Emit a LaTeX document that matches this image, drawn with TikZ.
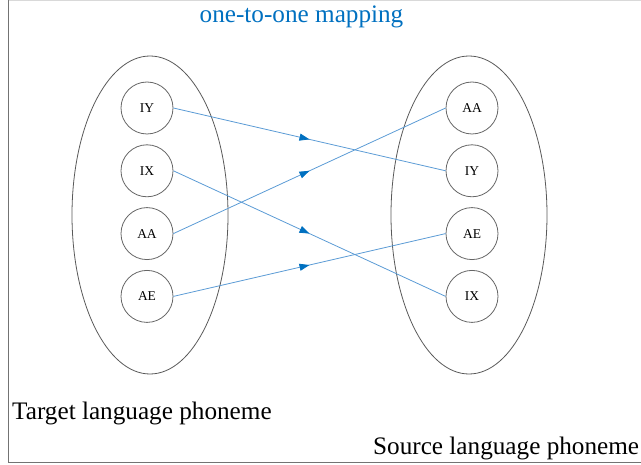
\documentclass[tikz,border=0pt]{standalone}
\usepackage{fontspec}
\setmainfont{Liberation Serif}
\newfontfamily\timesfont{Liberation Serif}
\usetikzlibrary{chains,positioning,shapes.geometric,arrows.meta,decorations.markings}
\definecolor{lineblue}{RGB}{91,155,213}
\definecolor{tipblue}{RGB}{0,112,192}
\definecolor{titleblue}{RGB}{0,112,192}

\begin{document}
\begin{tikzpicture}[
x=1pt,y=-1pt,
phon/.style={
  draw=black!60,
  circle,
  line width=0.8pt,
  minimum size=52pt,
  inner sep=0pt,
  font=\timesfont\fontsize{13.5}{15}\selectfont
},
group/.style={
  draw=black!65,
  ellipse,
  line width=0.8pt,
  minimum width=156pt,
  minimum height=318pt
},
caption/.style={
  font=\timesfont\fontsize{25.2}{30}\selectfont,
  inner sep=0pt,
  anchor=base west
},
map/.style={
  draw=lineblue,
  line width=0.8pt,
  decoration={markings,
    mark=at position 0.5 with {\arrow{Triangle[length=10pt,width=7pt,color=tipblue]}}},
  postaction={decorate}
},
node distance=10pt
]
\useasboundingbox (0,0) rectangle (641,465);
% frame
\draw[black!55,line width=0.8pt] (8.5,0) -- (8.5,462.5) -- (641,462.5);
\draw[black!15,line width=0.8pt] (8.5,0.5) -- (641,0.5);

\node[group] (target) at (150,215) {};
\node[group] (source) at (469,215) {};

\begin{scope}[start chain=1 going below]
\node[on chain=1,phon] at (147,108)
  (tIY) {IY};
\node[on chain=1,phon]
  (tIX) {IX};
\node[on chain=1,phon]
  (tAA) {AA};
\node[on chain=1,phon]
  (tAE) {AE};
\end{scope}
\begin{scope}[start chain=2 going below]
\node[on chain=2,phon] at (472,108)
  (sAA) {AA};
\node[on chain=2,phon]
  (sIY) {IY};
\node[on chain=2,phon]
  (sAE) {AE};
\node[on chain=2,phon]
  (sIX) {IX};
\end{scope}

\draw[map] (tIY.east) -- (sIY.west);
\draw[map] (tIX.east) -- (sIX.west);
\draw[map] (tAA.east) -- (sAA.west);
\draw[map] (tAE.east) -- (sAE.west);

\node[font=\timesfont\fontsize{25.2}{30}\selectfont,text=titleblue,inner sep=0pt,anchor=base] at (301.5,23)
  (title) {one-to-one mapping};
\node[caption] at (12,420)
  (tgtlabel) {Target language phoneme};
\node[caption] at (373,455)
  (srclabel) {Source language phoneme};
\end{tikzpicture}
\end{document}
